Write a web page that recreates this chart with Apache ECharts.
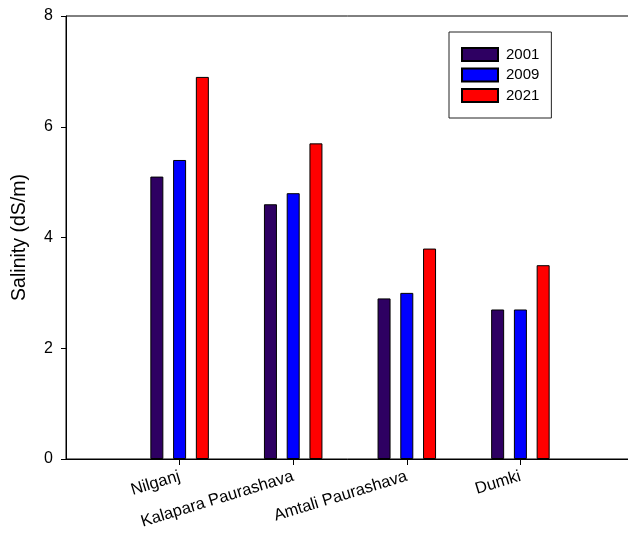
<!DOCTYPE html>
<html>
<head>
<meta charset="utf-8">
<script src="https://cdn.jsdelivr.net/npm/echarts@6/dist/echarts.min.js"></script>
<style>
  html, body { margin: 0; padding: 0; background: #fff; }
  #chart { width: 628px; height: 534px; }
</style>
</head>
<body>
<div id="chart"></div>
<script>
// Sites along the x axis
const categories = ['Nilganj', 'Kalapara Paurashava', 'Amtali Paurashava', 'Dumki'];
// Soil salinity (dS/m) per year
const years = ['2001', '2009', '2021'];
const salinity2001 = [5.1, 4.6, 2.9, 2.7];
const salinity2009 = [5.4, 4.8, 3.0, 2.7];
const salinity2021 = [6.9, 5.7, 3.8, 3.5];
// Y axis ticks
const yMin = 0, yMax = 8, yStep = 2;

const colors = ['#2e0062', '#0000ff', '#ff0000'];
const FONT = 'Liberation Sans, Arial, sans-serif';

// Empty slots at both ends keep the sites away from the axis edges
const axisCats = [''].concat(categories, ['']);
const pad = arr => [null].concat(arr, [null]);

const chart = echarts.init(document.getElementById('chart'), null, { renderer: 'canvas' });

const seriesValues = [salinity2001, salinity2009, salinity2021];

chart.setOption({
  animation: false,
  backgroundColor: '#fff',
  textStyle: { fontFamily: FONT },
  grid: {
    left: 66, top: 16, width: 568, height: 443,
    containLabel: false,
    outerBoundsMode: 'none',
    show: true, borderColor: '#000', borderWidth: 1, backgroundColor: 'transparent'
  },
  legend: {
    data: years,
    orient: 'vertical',
    left: 449, top: 32,
    padding: [15, 12, 15, 12],
    itemWidth: 36, itemHeight: 13, itemGap: 5.5,
    borderColor: '#222', borderWidth: 1,
    icon: 'rect',
    textStyle: { fontFamily: FONT, fontSize: 15, color: '#000', padding: [0, 0, 0, 3] }
  },
  xAxis: {
    type: 'category',
    data: axisCats,
    boundaryGap: false,
    axisLine: { lineStyle: { color: '#000', width: 1 } },
    axisTick: {
      show: true, length: 6, inside: false,
      interval: (i) => i > 0 && i < axisCats.length - 1,
      lineStyle: { color: '#000' }
    },
    axisLabel: {
      interval: 0, rotate: 17, margin: 17,
      fontFamily: FONT, fontSize: 16.5, color: '#000'
    },
    splitLine: { show: false }
  },
  yAxis: {
    type: 'value',
    min: yMin, max: yMax, interval: yStep,
    name: 'Salinity (dS/m)',
    nameLocation: 'middle',
    nameGap: 36,
    nameTextStyle: { fontFamily: FONT, fontSize: 19.5, color: '#000' },
    axisLine: { show: true, lineStyle: { color: '#000', width: 1 } },
    axisTick: { show: true, length: 5, inside: false, lineStyle: { color: '#000' } },
    axisLabel: { margin: 13, fontFamily: FONT, fontSize: 16, color: '#000' },
    splitLine: { show: false }
  },
  series: years.map((y, k) => ({
    name: y,
    type: 'bar',
    data: pad(seriesValues[k]),
    barWidth: 13,
    barGap: '75%',
    itemStyle: { color: colors[k], borderColor: '#000', borderWidth: 1 }
  }))
});
</script>
</body>
</html>
